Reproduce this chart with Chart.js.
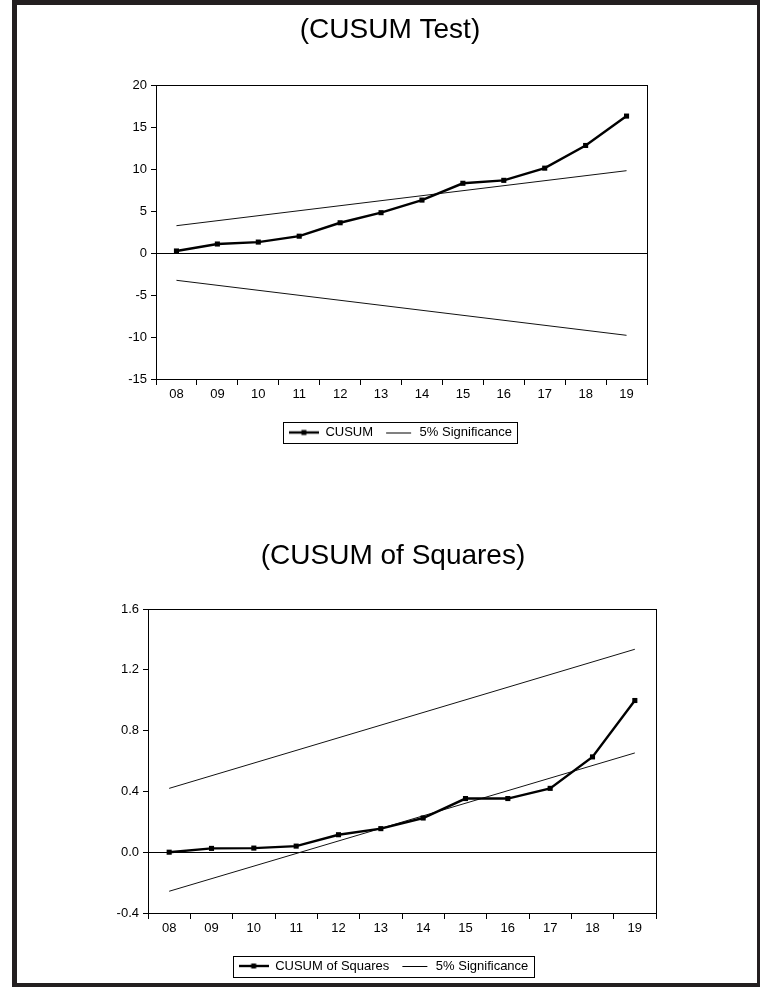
<!DOCTYPE html>
<html>
<head>
<meta charset="utf-8">
<script src="https://cdn.jsdelivr.net/npm/chart.js@4/dist/chart.umd.min.js"></script>
<style>
  html, body { margin: 0; padding: 0; background: #fff; }
  body { width: 760px; height: 987px; position: relative; overflow: hidden; }
  #frame { position: absolute; left: 12px; top: 0; width: 748px; height: 987px; box-sizing: border-box;
           border-style: solid; border-color: #231f20; border-width: 5px 3px 4px 5px; }
  canvas { position: absolute; left: 0; }
  #topChart { top: 0; }
  #bottomChart { top: 520px; }
</style>
</head>
<body>
<div id="frame"></div>
<canvas id="topChart" width="760" height="450"></canvas>
<canvas id="bottomChart" width="760" height="467"></canvas>
<script>
// data
var categories = ['08', '09', '10', '11', '12', '13', '14', '15', '16', '17', '18', '19'];

var cusum      = [0.24, 1.07, 1.3, 2.0, 3.6, 4.8, 6.3, 8.3, 8.65, 10.1, 12.8, 16.3];
var cusumUpper = [3.25, null, null, null, null, null, null, null, null, null, null, 9.8];
var cusumLower = [-3.25, null, null, null, null, null, null, null, null, null, null, -9.8];
var cusumTicks = [-15, -10, -5, 0, 5, 10, 15, 20];

var cusumSq      = [0.0, 0.025, 0.027, 0.04, 0.115, 0.155, 0.225, 0.353, 0.353, 0.42, 0.627, 0.998];
var cusumSqUpper = [0.42, null, null, null, null, null, null, null, null, null, null, 1.335];
var cusumSqLower = [-0.257, null, null, null, null, null, null, null, null, null, null, 0.653];
var cusumSqTicks = [-0.4, 0.0, 0.4, 0.8, 1.2, 1.6];

Chart.defaults.font.family = "'Liberation Sans', Arial, sans-serif";
Chart.defaults.font.size = 13;
Chart.defaults.color = '#000';

// little legend markers: thick line with a square, or a thin line
function makeMarker(withSquare) {
    var c = document.createElement('canvas');
    c.width = 30;
    c.height = 8;
    var g = c.getContext('2d');
    g.strokeStyle = '#000';
    if (withSquare) {
        g.lineWidth = 2.4;
        g.beginPath(); g.moveTo(0, 4); g.lineTo(30, 4); g.stroke();
        g.fillStyle = '#000';
        g.fillRect(12.5, 1.5, 5, 5);
    } else {
        g.lineWidth = 1;
        g.beginPath(); g.moveTo(3, 4.5); g.lineTo(28, 4.5); g.stroke();
    }
    return c;
}

// box around the plot area
var plotFrame = {
    id: 'plotFrame',
    afterDatasetsDraw: function(chart) {
        var a = chart.chartArea, ctx = chart.ctx;
        ctx.save();
        ctx.strokeStyle = '#000';
        ctx.lineWidth = 1;
        ctx.strokeRect(Math.round(a.left) + 0.5, Math.round(a.top) + 0.5,
                       Math.round(a.right - a.left), Math.round(a.bottom - a.top));
        ctx.restore();
    }
};

// move title and legend sideways, draw a box around the legend
var boxShift = {
    id: 'boxShift',
    afterLayout: function(chart, args, opts) {
        var t = opts.title || 0, l = opts.legend || 0;
        chart.titleBlock.left += t;
        chart.titleBlock.right += t;
        chart.legend.left += l;
        chart.legend.right += l;
    },
    afterDraw: function(chart) {
        var boxes = chart.legend.legendHitBoxes;
        if (!boxes || !boxes.length) return;
        var l = Infinity, r = -Infinity, t = Infinity, b = -Infinity;
        boxes.forEach(function(h) {
            l = Math.min(l, h.left); r = Math.max(r, h.left + h.width);
            t = Math.min(t, h.top); b = Math.max(b, h.top + h.height);
        });
        var ctx = chart.ctx;
        ctx.save();
        ctx.strokeStyle = '#000';
        ctx.lineWidth = 1;
        ctx.strokeRect(Math.round(l - 6) + 0.5, Math.round(t - 4) + 0.5,
                       Math.round(r - l + 11), Math.round(b - t + 8));
        ctx.restore();
    }
};

function buildChart(id, cfg) {
    return new Chart(document.getElementById(id).getContext('2d'), {
        type: 'line',
        data: {
            labels: categories,
            datasets: [
                {
                    label: cfg.name,
                    data: cfg.values,
                    borderColor: '#000',
                    borderWidth: 2.4,
                    pointStyle: 'rect',
                    pointRadius: 3.6,
                    pointBackgroundColor: '#000',
                    pointBorderWidth: 0,
                    tension: 0
                },
                {
                    label: '5% Significance',
                    data: cfg.upper,
                    borderColor: '#111',
                    borderWidth: 1,
                    pointRadius: 0,
                    spanGaps: true
                },
                {
                    label: '',
                    data: cfg.lower,
                    borderColor: '#111',
                    borderWidth: 1,
                    pointRadius: 0,
                    spanGaps: true
                }
            ]
        },
        options: {
            responsive: false,
            animation: false,
            devicePixelRatio: 1,
            layout: { padding: { left: cfg.padLeft, right: cfg.padRight, top: 0, bottom: cfg.padBottom } },
            scales: {
                x: {
                    offset: true,
                    grid: { offset: true, drawOnChartArea: false, tickLength: 6, color: '#000' },
                    border: { display: true, color: '#000' },
                    ticks: { padding: 2, maxRotation: 0, autoSkip: false },
                    afterFit: function(s) { s.height = cfg.xHeight; }
                },
                y: {
                    min: cfg.ticks[0],
                    max: cfg.ticks[cfg.ticks.length - 1],
                    afterBuildTicks: function(s) { s.ticks = cfg.ticks.map(function(v) { return { value: v }; }); },
                    afterFit: function(s) { s.width = 45; },
                    grid: {
                        drawOnChartArea: true,
                        tickLength: 5,
                        tickColor: '#000',
                        color: function(c) {
                            return c.tick && Math.abs(c.tick.value) < 1e-9 ? '#000' : 'rgba(0,0,0,0)';
                        }
                    },
                    border: { display: true, color: '#000' },
                    ticks: {
                        padding: 4,
                        callback: function(v) { return cfg.decimals ? Number(v).toFixed(cfg.decimals) : v; }
                    }
                }
            },
            plugins: {
                title: {
                    display: true,
                    text: cfg.title,
                    color: '#000',
                    font: { size: 28, weight: 'normal' },
                    padding: { top: cfg.titleTop, bottom: cfg.titleBottom }
                },
                legend: {
                    position: 'bottom',
                    labels: {
                        usePointStyle: true,
                        pointStyleWidth: 30,
                        padding: 10,
                        color: '#000',
                        font: { size: 13 },
                        generateLabels: function() {
                            return [
                                { text: cfg.name, pointStyle: makeMarker(true), datasetIndex: 0, hidden: false, lineWidth: 0 },
                                { text: '5% Significance', pointStyle: makeMarker(false), datasetIndex: 1, hidden: false, lineWidth: 0 }
                            ];
                        }
                    }
                },
                boxShift: { title: cfg.titleShift, legend: cfg.legendShift },
                tooltip: { enabled: false }
            }
        },
        plugins: [plotFrame, boxShift]
    });
}

buildChart('topChart', {
    name: 'CUSUM',
    title: '(CUSUM Test)',
    values: cusum,
    upper: cusumUpper,
    lower: cusumLower,
    ticks: cusumTicks,
    decimals: 0,
    padLeft: 111, padRight: 113, padBottom: 1,
    xHeight: 37,
    titleTop: 13, titleBottom: 38.4,
    titleShift: 11, legendShift: 21.5
});

buildChart('bottomChart', {
    name: 'CUSUM of Squares',
    title: '(CUSUM of Squares)',
    values: cusumSq,
    upper: cusumSqUpper,
    lower: cusumSqLower,
    ticks: cusumSqTicks,
    decimals: 1,
    padLeft: 103, padRight: 104, padBottom: 4.5,
    xHeight: 36.5,
    titleTop: 19, titleBottom: 36.4,
    titleShift: 13.5, legendShift: 4
});
</script>
</body>
</html>
